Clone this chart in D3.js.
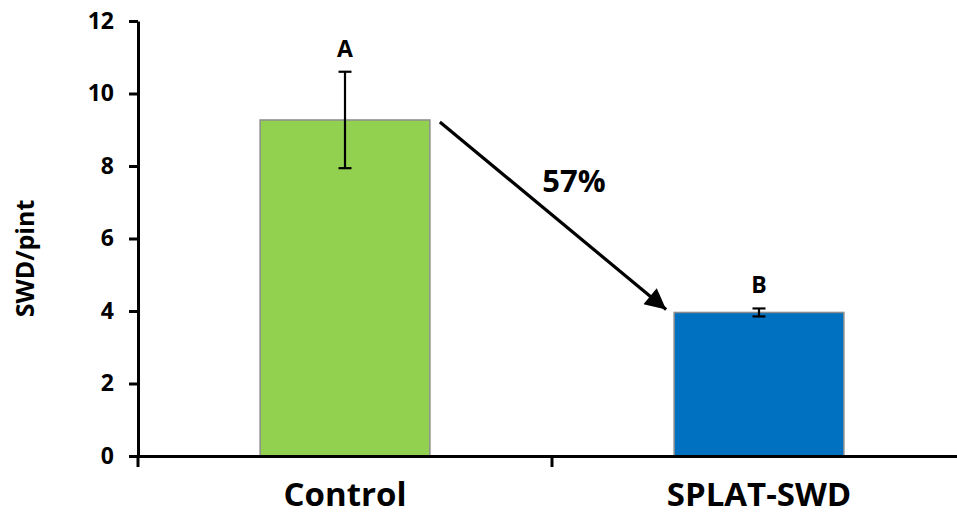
<!DOCTYPE html>
<html>
<head>
<meta charset="utf-8">
<script src="https://cdn.jsdelivr.net/npm/d3@7"></script>
<style>
  body { margin: 0; background: #fff; }
  text { font-family: "Open Sans", sans-serif; font-weight: bold; fill: #000; }
</style>
</head>
<body>
<div id="chart"></div>
<script>
// chart data
const categories = ["Control", "SPLAT-SWD"]
const means = [9.27, 3.96]
const errors = [1.33, 0.11]
const letters = ["A", "B"]
const barColors = ["#92D050", "#0070C0"]
const yTicks = [0, 2, 4, 6, 8, 10, 12]
const reductionLabel = "57%"

const width = 957
const height = 518
const margin = {top: 21, right: -9, bottom: 62, left: 138}

const svg = d3.select("#chart")
    .append("svg")
    .attr("width", width)
    .attr("height", height)

// y scale, 0..12
const y = d3.scaleLinear()
    .domain([0, 12])
    .range([height - margin.bottom, margin.top])

// one band per category, ticks sit on the band edges
const x = d3.scaleBand()
    .domain(categories)
    .range([margin.left, width - margin.right])
    .padding(0)

const barW = x.bandwidth() * 0.41

// bars
svg.selectAll("rect.bar")
    .data(categories)
    .join("rect")
    .attr("class", "bar")
    .attr("x", d => x(d) + (x.bandwidth() - barW) / 2)
    .attr("y", (d, i) => y(means[i]))
    .attr("width", barW)
    .attr("height", (d, i) => y(0) - y(means[i]))
    .attr("fill", (d, i) => barColors[i])
    .attr("stroke", "#8c8c8c")
    .attr("stroke-width", 1.5)

// error bars
const err = svg.selectAll("g.err")
    .data(categories)
    .join("g")
    .attr("class", "err")
    .attr("stroke", "#000")
    .attr("stroke-width", 2.2)

err.append("line")
    .attr("x1", d => x(d) + x.bandwidth() / 2)
    .attr("x2", d => x(d) + x.bandwidth() / 2)
    .attr("y1", (d, i) => y(means[i] + errors[i]))
    .attr("y2", (d, i) => y(means[i] - errors[i]))

err.selectAll("line.cap")
    .data((d, i) => [[d, means[i] + errors[i]], [d, means[i] - errors[i]]])
    .join("line")
    .attr("class", "cap")
    .attr("x1", d => x(d[0]) + x.bandwidth() / 2 - 6.5)
    .attr("x2", d => x(d[0]) + x.bandwidth() / 2 + 6.5)
    .attr("y1", d => y(d[1]))
    .attr("y2", d => y(d[1]))

// significance letters
svg.selectAll("text.letter")
    .data(categories)
    .join("text")
    .attr("class", "letter")
    .attr("x", d => x(d) + x.bandwidth() / 2)
    .attr("y", (d, i) => y(means[i] + errors[i]) - 15)
    .attr("text-anchor", "middle")
    .style("font-size", "23px")
    .text((d, i) => letters[i])

// y axis
const yAxis = svg.append("g")
    .attr("transform", `translate(${margin.left},0)`)
    .call(d3.axisLeft(y).tickValues(yTicks).tickSize(9).tickPadding(15).tickSizeOuter(0))
yAxis.select(".domain").attr("stroke-width", 3)
yAxis.selectAll(".tick line").attr("stroke-width", 3)
yAxis.selectAll("text").style("font-size", "23px")

// x axis, labels only; the ticks go on the band edges
const xAxis = svg.append("g")
    .attr("transform", `translate(0,${y(0)})`)
    .call(d3.axisBottom(x).tickSize(0).tickPadding(27))
xAxis.select(".domain").attr("stroke-width", 3)
xAxis.selectAll("text").style("font-size", "33px")

const edges = categories.map(d => x(d)).concat([x.range()[1]])
svg.selectAll("line.edge")
    .data(edges)
    .join("line")
    .attr("class", "edge")
    .attr("x1", d => d)
    .attr("x2", d => d)
    .attr("y1", y(0))
    .attr("y2", y(0) + 11)
    .attr("stroke", "#000")
    .attr("stroke-width", 3)

// y axis title
svg.append("text")
    .attr("transform", `translate(34,${(y(0) + y(12)) / 2 + 20}) rotate(-90)`)
    .attr("text-anchor", "middle")
    .style("font-size", "25px")
    .text("SWD/pint")

// arrow from control bar to the SPLAT-SWD bar
svg.append("defs").append("marker")
    .attr("id", "head")
    .attr("viewBox", "0 0 10 10")
    .attr("refX", 10)
    .attr("refY", 5)
    .attr("markerWidth", 8)
    .attr("markerHeight", 6.5)
    .attr("markerUnits", "strokeWidth")
    .attr("orient", "auto")
    .append("path")
    .attr("d", "M0,0 L10,5 L0,10 Z")
    .attr("fill", "#000")

const x0 = x(categories[0]) + (x.bandwidth() + barW) / 2 + 10
const x1 = x(categories[1]) + (x.bandwidth() - barW) / 2 - 8
svg.append("line")
    .attr("x1", x0)
    .attr("y1", y(means[0]) + 2)
    .attr("x2", x1)
    .attr("y2", y(means[1]) - 3)
    .attr("stroke", "#000")
    .attr("stroke-width", 3.2)
    .attr("marker-end", "url(#head)")

svg.append("text")
    .attr("x", (x0 + x1) / 2 + 21)
    .attr("y", 192)
    .attr("text-anchor", "middle")
    .style("font-size", "31px")
    .text(reductionLabel)
</script>
</body>
</html>
